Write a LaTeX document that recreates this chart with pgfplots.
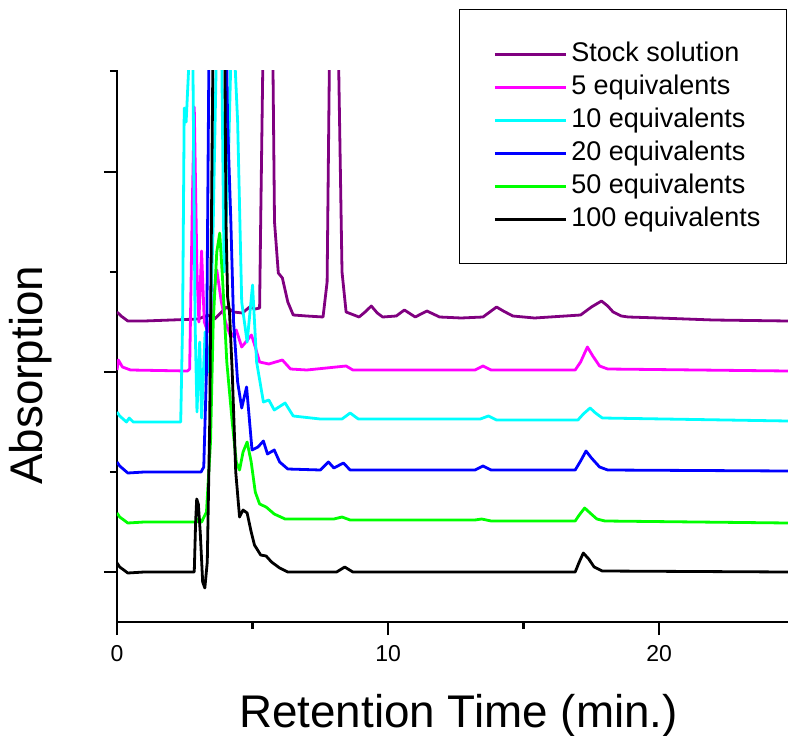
\documentclass[border=0pt]{standalone}
\usepackage{pgfplots}
\pgfplotsset{compat=1.18}
\usepackage{fontspec}
\setmainfont{Liberation Sans}
\definecolor{cpurple}{RGB}{128,0,128}
\definecolor{cmagenta}{RGB}{255,0,255}
\definecolor{ccyan}{RGB}{0,255,255}
\definecolor{cblue}{RGB}{0,0,255}
\definecolor{cgreen}{RGB}{0,255,0}
\begin{document}
\begin{tikzpicture}
\useasboundingbox (-58.5pt,-56.5pt) rectangle (335.5pt,311pt);
\begin{axis}[
  at={(0pt,0pt)}, anchor=south west,
  width=335.5pt, height=276pt, scale only axis,
  xmin=0, xmax=24.75, ymin=0, ymax=552,
  axis lines*=left,
  axis line style={line width=1.3pt},
  xtick={0,10,20}, minor xtick={5,15},
  ytick={50,250,450}, minor ytick={150,350,551},
  yticklabels={},
  tick align=outside,
  major tick length=6.5pt, minor tick length=3.5pt,
  every tick/.style={black, line width=1.2pt},
  every minor tick/.style={black, line width=1.2pt},
  /pgf/number format/assume math mode=true,
  ticklabel style={font=\fontsize{11.5}{13}\selectfont},
  xticklabel style={yshift=-1.5pt},
  xlabel={Retention Time (min.)},
  ylabel={Absorption},
  label style={font=\fontsize{22.9}{26}\selectfont},
  ylabel style={at={(axis description cs:-0.087,0.447)}},
  xlabel style={at={(axis description cs:0.509,-0.118)}, anchor=north},
  legend image code/.code={\path (0pt,0pt); \draw[#1] (6pt,0pt) -- (41.5pt,0pt);},
  legend cell align=left,
  legend style={at={(axis description cs:0.9985,1.1105)}, anchor=north east,
    draw=black, line width=0.6pt, inner xsep=11pt, inner ysep=14pt,
    font=\fontsize{13.5}{15}\selectfont, row sep=0pt,
    nodes={inner sep=2pt, text height=9.7pt, text depth=2.8pt}},
  every axis plot/.append style={line width=1.4pt, line join=round},
]
% Stock solution
\addplot[cpurple] coordinates {
(0,310) (0.15,306) (0.4,301) (1,301) (2,302) (3.0,303) (3.35,307) (3.6,303) (4.04,315) (4.3,310) (4.63,309) (4.89,315) (5.1,313) (5.26,314)
(5.3,400) (5.45,700) (5.7,700) (5.81,400) (5.95,349) (6.1,344) (6.3,320) (6.5,307) (7.0,306) (7.6,305)
(7.75,340) (7.85,600) (8.0,800) (8.15,600) (8.3,350) (8.45,310) (8.93,305) (9.15,310) (9.38,316) (9.6,309) (9.8,305) (10.3,306) (10.6,312) (11.0,305) (11.43,311) (11.9,305)
(12.7,304) (13.5,305) (13.8,311) (14.0,315) (14.25,311) (14.6,306) (15.4,304) (17.1,307) (17.5,315) (17.87,321) (18.1,316) (18.3,310) (18.6,306) (18.86,305) (20,304) (22,302) (24.75,301)
};
\addlegendentry{Stock solution}
% 5 equivalents
\addplot[cmagenta] coordinates {
(0,252) (0.05,262) (0.2,255) (0.5,252) (2.6,251) (2.68,253) (2.78,420) (2.85,515) (2.95,350) (3.02,300) (3.12,371) (3.22,300) (3.35,290)
(3.5,310) (3.68,352) (3.85,320) (4.0,300) (4.2,285) (4.4,292) (4.6,275) (4.96,287) (5.1,275) (5.26,260) (5.6,258) (6.1,262) (6.4,253)
(7,252) (8.45,256) (8.7,252) (13.2,252) (13.5,256) (13.8,252) (16.9,252) (17.1,260) (17.35,275) (17.55,266) (17.8,256) (18.1,253) (24.75,251)
};
\addlegendentry{5 equivalents}
% 10 equivalents
\addplot[ccyan] coordinates {
(0,210) (0.1,206) (0.35,200) (0.45,204) (0.6,200) (2.35,200) (2.42,300) (2.48,514) (2.55,500) (2.62,540) (2.72,600) (2.8,560) (2.88,300)
(2.95,210) (3.05,280) (3.12,204) (3.25,290) (3.4,250) (3.55,400) (3.7,620) (3.85,600) (3.95,350) (4.1,450) (4.25,620) (4.45,500) (4.6,320)
(4.8,280) (5.0,337) (5.15,260) (5.4,220) (5.6,222) (5.8,212) (6.2,219) (6.5,206) (7.5,203) (8.3,203) (8.6,209) (8.9,203) (13.4,203)
(13.7,206) (14.0,202) (17.0,202) (17.2,208) (17.45,214) (17.65,209) (17.9,204) (24.75,201)
};
\addlegendentry{10 equivalents}
% 20 equivalents
\addplot[cblue] coordinates {
(0,160) (0.1,156) (0.4,149) (1,150) (3.1,150) (3.2,155) (3.3,250) (3.4,600) (3.5,650) (4.0,650) (4.08,500) (4.2,400) (4.3,300) (4.45,240)
(4.6,214) (4.78,235) (4.98,172) (5.2,175) (5.4,181) (5.55,168) (5.8,172) (6.0,160) (6.3,153) (7.5,152) (7.8,160) (8.0,154) (8.35,159)
(8.6,152) (13.2,152) (13.5,156) (13.8,152) (16.9,152) (17.1,161) (17.3,171) (17.5,164) (17.8,155) (18.1,152) (24.75,151)
};
\addlegendentry{20 equivalents}
% 50 equivalents
\addplot[cgreen] coordinates {
(0,109) (0.1,105) (0.4,99) (1,100) (2.95,100) (3.02,104) (3.12,100) (3.3,110) (3.45,180) (3.55,300) (3.68,370) (3.79,389) (3.9,340)
(4.05,260) (4.25,200) (4.4,160) (4.52,152) (4.65,170) (4.8,180) (4.95,160) (5.1,130) (5.26,118) (5.5,115) (5.8,108) (6.2,103) (8.0,103)
(8.3,105) (8.6,102) (13.2,102) (13.45,103) (13.8,101) (16.9,101) (17.05,107) (17.25,114) (17.45,109) (17.7,103) (18.0,101) (24.75,99)
};
\addlegendentry{50 equivalents}
% 100 equivalents
\addplot[black] coordinates {
(0,59) (0.1,55) (0.4,49) (1,50) (2.85,50) (2.9,100) (2.94,123) (3.0,118) (3.07,90) (3.16,40) (3.24,34) (3.33,60) (3.42,200) (3.5,450)
(3.55,600) (3.97,600) (4.02,400) (4.08,325) (4.15,310) (4.25,250) (4.38,150) (4.52,105) (4.65,112) (4.8,109) (4.95,90) (5.07,77)
(5.3,67) (5.5,66) (5.7,60) (6.0,54) (6.3,50) (8.1,50) (8.4,55) (8.7,50) (16.9,50) (17.05,60) (17.2,69) (17.4,63) (17.6,55) (17.9,51) (24.75,50)
};
\addlegendentry{100 equivalents}
\end{axis}
\end{tikzpicture}
\end{document}
